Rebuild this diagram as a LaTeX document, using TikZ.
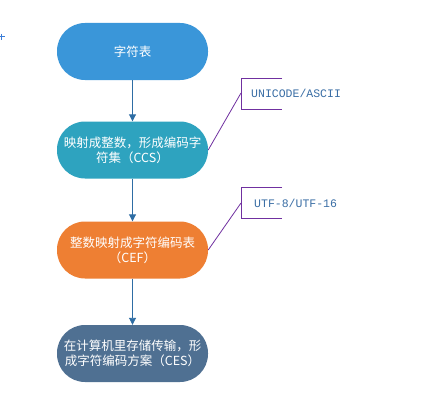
\documentclass[tikz,border=0pt]{standalone}
\usepackage{fontspec}
\setmainfont{Noto Sans CJK SC}
\newfontfamily\callfont{Liberation Mono}
\usetikzlibrary{arrows.meta}
\definecolor{cA}{HTML}{3A96D9}
\definecolor{cB}{HTML}{2EA3BF}
\definecolor{cC}{HTML}{EE7F33}
\definecolor{cD}{HTML}{4F7092}
\definecolor{arr}{HTML}{2E6DA4}
\definecolor{pur}{HTML}{7030A0}
\definecolor{lbl}{HTML}{3A6EA5}
\definecolor{markcol}{HTML}{3B7DD8}
\tikzset{
  stadium/.style={rectangle, rounded corners=28pt, minimum width=151pt, minimum height=57pt,
    text=white, align=center, font=\fontsize{12.5pt}{15pt}\selectfont, inner sep=0pt},
  flow/.style={draw=arr, line width=0.9pt, -{Triangle[width=7pt,length=7pt]}},
  callout/.style={draw=pur, line width=0.8pt},
  calltext/.style={text=lbl, font=\callfont\fontsize{11.5pt}{13pt}\selectfont, inner sep=0pt},
}
\begin{document}
\begin{tikzpicture}[x=1pt,y=-1pt]
\useasboundingbox[fill=white] (0,0) rectangle (433,404);
% small mark at left edge
\draw[draw=markcol, line width=1pt] (-1,37) -- (5,37) (1,34) -- (1,40);
\node[stadium, fill=cA] (n1) at (132.5,51.5) {字符表};
\node[stadium, fill=cB] (n2) at (132.5,150) {映射成整数，形成编码字\\符集（CCS）};
\node[stadium, fill=cC] (n3) at (132.5,250) {整数映射成字符编码表\\（CEF）};
\node[stadium, fill=cD] (n4) at (132.5,353.5) {在计算机里存储传输，形\\成字符编码方案（CES）};
\draw[flow] (n1.south) -- (n2.north);
\draw[flow] (n2.south) -- (n3.north);
\draw[flow] (n3.south) -- (n4.north);
% callout 1
\coordinate (b1) at (241,93);
\draw[callout] (282,78) -- (241,78) -- (241,109) -- (282,109);
\draw[callout] (n2.east) -- (b1);
\node[calltext, anchor=west] (t1) at (251,93) {UNICODE/ASCII};
% callout 2
\coordinate (b2) at (241,203);
\draw[callout] (282,187) -- (241,187) -- (241,218) -- (282,218);
\draw[callout] (n3.east) -- (b2);
\node[calltext, anchor=west] (t2) at (254,203) {UTF-8/UTF-16};
\end{tikzpicture}
\end{document}
